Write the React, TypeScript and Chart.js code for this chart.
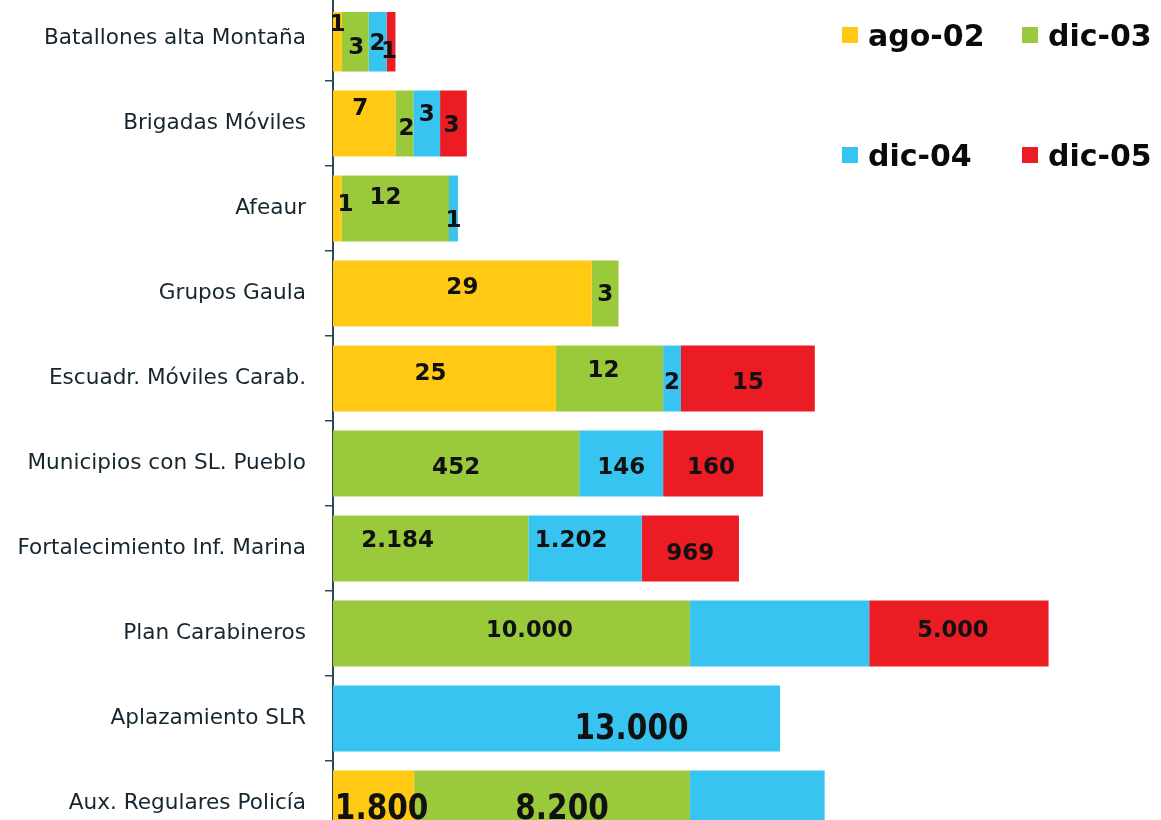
import React, { useEffect, useRef } from 'react';
import { Chart, registerables } from 'chart.js';

Chart.register(...registerables);

// ---- data -------------------------------------------------------------
const categories = [
  'Batallones alta Montaña',
  'Brigadas Móviles',
  'Afeaur',
  'Grupos Gaula',
  'Escuadr. Móviles Carab.',
  'Municipios con SL. Pueblo',
  'Fortalecimiento Inf. Marina',
  'Plan Carabineros',
  'Aplazamiento SLR',
  'Aux. Regulares Policía',
];

const seriesNames = ['ago-02', 'dic-03', 'dic-04', 'dic-05'];

// Bar lengths as drawn in the reference (bar units; the picture does not draw
// the larger printed figures to a common scale, so lengths are read off it).
const ago02Length = [1, 7, 1, 29, 25, null, null, null, null, 9.1];
const dic03Length = [3, 2, 12, 3, 12, 27.6, 21.9, 40.0, null, 30.9];
const dic04Length = [2, 3, 1, null, 2, 9.4, 12.7, 20.1, 50.1, 15.1];
const dic05Length = [1, 3, null, null, 15, 11.2, 10.9, 20.1, null, null];

// Figures printed on the segments
const ago02Text = ['1', '7', '1', '29', '25', '', '', '', '', '1.800'];
const dic03Text = ['3', '2', '12', '3', '12', '452', '2.184', '10.000', '', '8.200'];
const dic04Text = ['2', '3', '1', '', '2', '146', '1.202', '', '13.000', ''];
const dic05Text = ['1', '3', '', '', '15', '160', '969', '5.000', '', ''];

const xMax = 92.8;

// ---- styles -----------------------------------------------------------
const seriesColors = ['#FFC914', '#9AC93B', '#38C4F0', '#EC1C24'];
const axisColor = '#2f4756';

// label nudges [dx, dy] in px, per series then per category
const labelNudge: number[][][] = [
  [[0, -16], [-4, -17], [8, -6], [0, -8], [-14, -7], [0, 0], [0, 0], [0, 0], [0, 0], [8, 3]],
  [[1, 7], [2, 3], [-10, -13], [0, -1], [-6, -10], [0, 2], [-33, -10], [18, -5], [0, 0], [10, 3]],
  [[0, 3], [0, -11], [0, 10], [0, 0], [0, 2], [0, 2], [-14, -10], [0, 0], [75, 8], [0, 0]],
  [[-2, 11], [-2, 0], [0, 0], [0, 0], [0, 2], [-2, 2], [0, 3], [-6, -5], [0, 0], [0, 0]],
];

const seriesLengths = [ago02Length, dic03Length, dic04Length, dic05Length];
const seriesTexts = [ago02Text, dic03Text, dic04Text, dic05Text];

const segLabelPlugin = {
  id: 'segLabels',
  afterDatasetsDraw(chart: any) {
    const ctx = chart.ctx;
    chart.data.datasets.forEach((_ds: any, di: number) => {
      const meta = chart.getDatasetMeta(di);
      meta.data.forEach((bar: any, i: number) => {
        const txt = seriesTexts[di][i];
        if (!txt) return;
        const p = bar.getProps(['x', 'base', 'y'], true);
        const n = labelNudge[di][i];
        const cx = (p.x + p.base) / 2 + n[0];
        const cy = p.y + n[1];
        const big = i >= 8;
        const size = big ? 35 : i === 7 ? 22.5 : 23;
        const sx = big ? 0.845 : 1;
        ctx.save();
        ctx.font = `bold ${size}px "DejaVu Sans"`;
        ctx.fillStyle = '#111111';
        ctx.textAlign = 'center';
        ctx.textBaseline = 'alphabetic';
        ctx.translate(cx, cy + size * 0.3645);
        ctx.scale(sx, 1);
        ctx.fillText(txt, 0, 0);
        ctx.restore();
      });
    });
  },
};

const legendPlugin = {
  id: 'cornerLegend',
  afterDraw(chart: any) {
    const ctx = chart.ctx;
    const cols = [842, 1022];
    const rows = [31, 151]; // square tops (canvas coords)
    chart.data.datasets.forEach((ds: any, di: number) => {
      const col = cols[di % 2];
      const row = rows[Math.floor(di / 2)];
      ctx.save();
      ctx.fillStyle = ds.backgroundColor;
      ctx.fillRect(col, row, 16, 16);
      ctx.font = 'bold 30px "DejaVu Sans"';
      ctx.fillStyle = '#0a0a0a';
      ctx.textAlign = 'left';
      ctx.textBaseline = 'alphabetic';
      ctx.fillText(ds.label, col + 26, row + 19);
      ctx.restore();
    });
  },
};

export default function App() {
  const canvasRef = useRef<HTMLCanvasElement | null>(null);

  useEffect(() => {
    if (!canvasRef.current) return;
    const chart = new Chart(canvasRef.current, {
      type: 'bar',
      data: {
        labels: categories,
        datasets: seriesNames.map((name, k) => ({
          label: name,
          data: seriesLengths[k] as any,
          backgroundColor: seriesColors[k],
          borderWidth: 0,
          categoryPercentage: 1,
          barPercentage: 0.776,
          clip: { left: 0, top: -16, right: 0, bottom: 0 },
        })),
      },
      options: {
        indexAxis: 'y',
        responsive: false,
        devicePixelRatio: 1,
        animation: false,
        layout: { padding: 0 },
        plugins: {
          legend: { display: false },
          tooltip: { enabled: false },
          title: { display: false },
        },
        scales: {
          x: {
            type: 'linear',
            stacked: true,
            display: false,
            min: 0,
            max: xMax,
          },
          y: {
            type: 'category',
            stacked: true,
            offset: true,
            grid: {
              display: true,
              drawOnChartArea: false,
              drawTicks: true,
              tickLength: 8,
              color: axisColor,
              lineWidth: 1.5,
            },
            border: { display: true, color: axisColor, width: 2 },
            ticks: {
              color: '#16262f',
              padding: 19,
              font: { family: 'DejaVu Sans', size: 21.6 },
            },
            afterFit(scale: any) {
              scale.width = 333;
              scale.paddingTop = 0;
              scale.paddingBottom = 0;
            },
          },
        },
      },
      plugins: [segLabelPlugin, legendPlugin],
    });
    return () => chart.destroy();
  }, []);

  return (
    <div
      style={{
        position: 'fixed',
        left: 0,
        top: 0,
        width: 1161,
        height: 820,
        overflow: 'hidden',
        background: '#ffffff',
      }}
    >
      <canvas
        ref={canvasRef}
        width={1161}
        height={850}
        style={{ position: 'absolute', left: 0, top: -4, width: 1161, height: 850 }}
      />
    </div>
  );
}
